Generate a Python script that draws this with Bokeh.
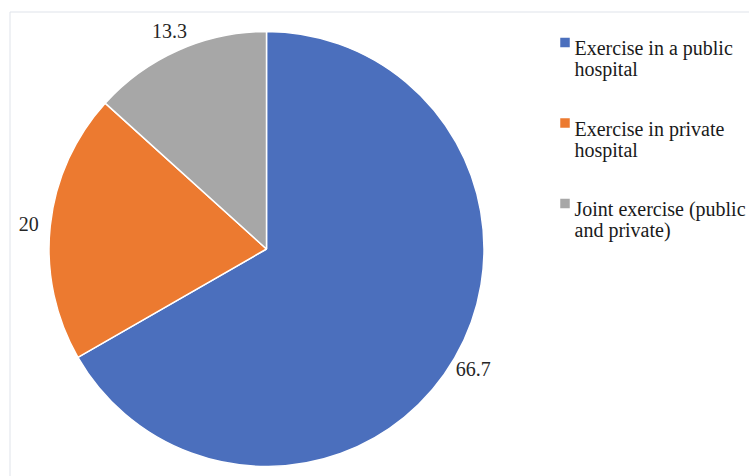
import math
from bokeh.plotting import figure
from bokeh.models import Range1d, ColumnDataSource
from bokeh.core.properties import value
from bokeh.embed import file_html
from bokeh.resources import INLINE

categories = ["Exercise in a public\nhospital", "Exercise in private\nhospital", "Joint exercise (public\nand private)"]
values = [66.7, 20, 13.3]
value_labels = ["66.7", "20", "13.3"]
colors = ["#4b6fbd", "#ec7a30", "#a7a7a7"]

W, H = 749, 476
p = figure(width=W, height=H, x_range=Range1d(0, W), y_range=Range1d(0, H),
           output_backend="svg", toolbar_location=None, min_border=0)
p.axis.visible = False
p.grid.visible = False
p.outline_line_color = None
p.background_fill_color = "white"

# frame
p.quad(left=[9.5], right=[W + 10], top=[H - 11.5], bottom=[-10],
       fill_color=None, line_color="#dfe3ea", line_width=1)

cx, cy, r = 266, H - 248.5, 217.5
total = sum(values)
starts, ends, mids = [], [], []
cum = 0.0
for v in values:
    a0 = math.pi / 2 - 2 * math.pi * cum / total
    cum += v
    a1 = math.pi / 2 - 2 * math.pi * cum / total
    starts.append(a1)
    ends.append(a0)
    mids.append((a0 + a1) / 2)

src = ColumnDataSource(dict(start=starts, end=ends, color=colors,
                            x=[cx] * 3, y=[cy] * 3))
p.wedge(x="x", y="y", radius=r, start_angle="start", end_angle="end",
        fill_color="color", line_color="white", line_width=1.5, source=src)

rl = 239
lx = [cx + rl * math.cos(m) for m in mids]
ly = [cy + rl * math.sin(m) for m in mids]
p.text(x=lx, y=ly, text=value_labels, text_align="center", text_baseline="middle",
       text_font=value("Liberation Serif"), text_font_size="20px", text_color="#262626")

# legend
lg_x, lg_y0, lg_step, line_h = 574, H - 47.5, 80.5, 21
for i, (cat, col) in enumerate(zip(categories, colors)):
    base = lg_y0 - i * lg_step
    p.rect(x=[564.5], y=[base + 5.5], width=9.5, height=9.5, fill_color=col, line_color=None)
    for j, line in enumerate(cat.split("\n")):
        p.text(x=[lg_x], y=[base - j * line_h], text=[line], text_align="left",
               text_baseline="alphabetic", text_font=value("Liberation Serif"),
               text_font_size="20px", text_color="#1a1a1a")

open("out.html", "w").write(file_html(p, INLINE))
